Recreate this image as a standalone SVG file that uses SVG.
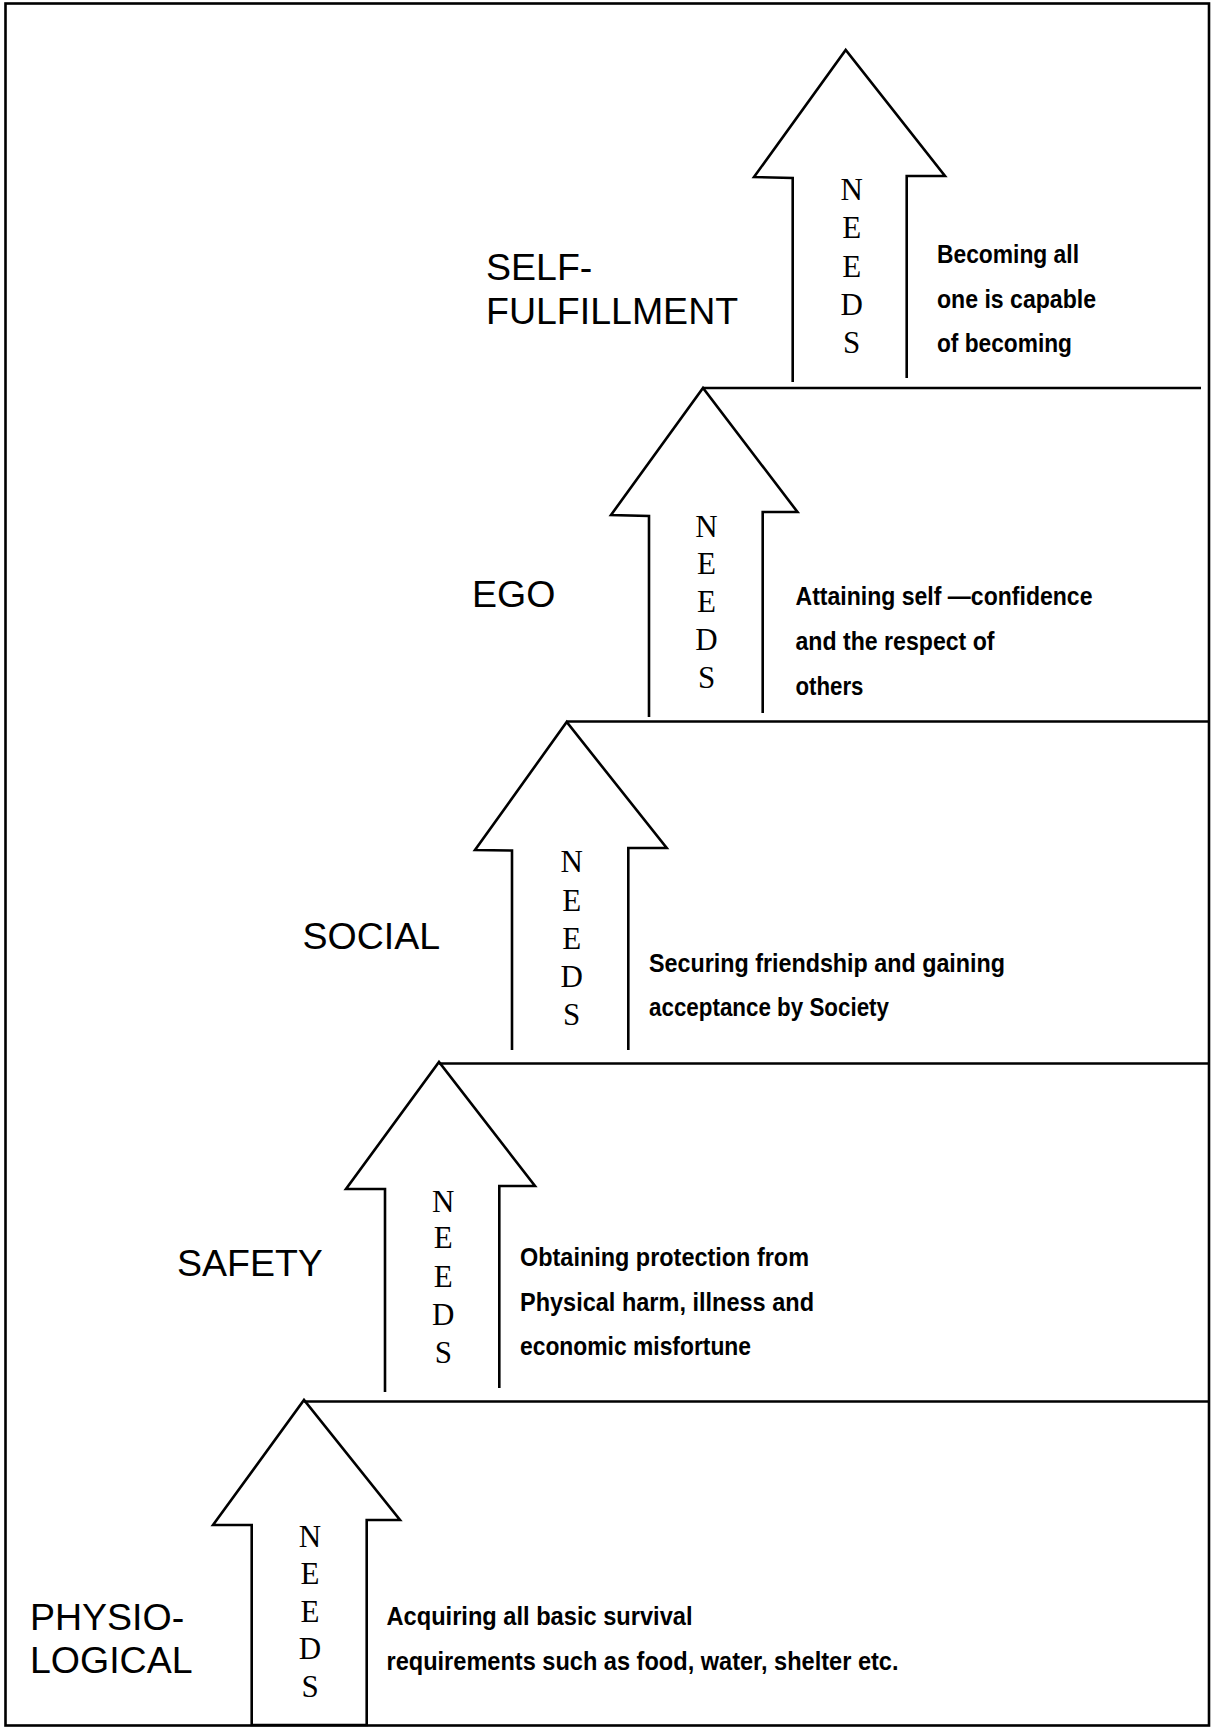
<svg xmlns="http://www.w3.org/2000/svg" width="1218" height="1728" viewBox="0 0 1218 1728">
<style>
.line{fill:none;stroke:#000;stroke-width:2.6;stroke-linejoin:miter;stroke-linecap:butt}
.lbl{font-family:"Liberation Sans",Arial,sans-serif;font-size:37.5px;fill:#000}
.nd{font-family:"Liberation Serif","Times New Roman",serif;font-size:31px;fill:#000;text-anchor:middle}
.desc{font-family:"Liberation Sans Narrow","Liberation Sans",Arial,sans-serif;font-size:26px;font-weight:bold;fill:#000}
</style>
<rect x="0" y="0" width="1218" height="1728" fill="#fff"/>
<rect class="line" x="5.5" y="3.5" width="1203.5" height="1722"/>
<g id="steps">
<line class="line" x1="703" y1="388" x2="1201" y2="388"/>
<line class="line" x1="566.7" y1="721.5" x2="1209" y2="721.5"/>
<line class="line" x1="439" y1="1063.5" x2="1209" y2="1063.5"/>
<line class="line" x1="304" y1="1401.5" x2="1209" y2="1401.5"/>
</g>
<g id="self-fulfillment">
<path class="line" d="M792.7,382 L792.7,178 L754,177 L845.7,50 L945,176 L906.7,176 L906.7,378"/>
<text class="nd" x="851.7" y="200">N</text><text class="nd" x="851.7" y="238">E</text><text class="nd" x="851.7" y="277">E</text><text class="nd" x="851.7" y="315">D</text><text class="nd" x="851.7" y="353">S</text>
<text class="lbl" x="486" y="280">SELF-</text>
<text class="lbl" x="486" y="324">FULFILLMENT</text>
<text class="desc" x="937" y="263" textLength="142" lengthAdjust="spacingAndGlyphs">Becoming all</text>
<text class="desc" x="937" y="308" textLength="159" lengthAdjust="spacingAndGlyphs">one is capable</text>
<text class="desc" x="937" y="352" textLength="135" lengthAdjust="spacingAndGlyphs">of becoming</text>
</g>
<g id="ego">
<path class="line" d="M649,717 L649,516 L611,515 L703,388 L797.5,512 L762.7,512 L762.7,713"/>
<text class="nd" x="706.5" y="537">N</text><text class="nd" x="706.5" y="574">E</text><text class="nd" x="706.5" y="612">E</text><text class="nd" x="706.5" y="650">D</text><text class="nd" x="706.5" y="688">S</text>
<text class="lbl" x="472" y="607">EGO</text>
<text class="desc" x="795.5" y="605" textLength="297" lengthAdjust="spacingAndGlyphs">Attaining self —confidence</text>
<text class="desc" x="795.5" y="650" textLength="199" lengthAdjust="spacingAndGlyphs">and the respect of</text>
<text class="desc" x="795.5" y="695" textLength="68" lengthAdjust="spacingAndGlyphs">others</text>
</g>
<g id="social">
<path class="line" d="M512,1050 L512,850.5 L475,850 L566.7,722 L666.7,848 L628.3,848 L628.3,1050"/>
<text class="nd" x="571.7" y="872">N</text><text class="nd" x="571.7" y="910.5">E</text><text class="nd" x="571.7" y="949">E</text><text class="nd" x="571.7" y="987">D</text><text class="nd" x="571.7" y="1025">S</text>
<text class="lbl" x="302.5" y="949">SOCIAL</text>
<text class="desc" x="649" y="972" textLength="356" lengthAdjust="spacingAndGlyphs">Securing friendship and gaining</text>
<text class="desc" x="649" y="1016" textLength="240" lengthAdjust="spacingAndGlyphs">acceptance by Society</text>
</g>
<g id="safety">
<path class="line" d="M385,1392 L385,1189 L346,1189 L439,1062 L535,1186 L499.3,1186 L499.3,1388"/>
<text class="nd" x="443.3" y="1211.5">N</text><text class="nd" x="443.3" y="1248">E</text><text class="nd" x="443.3" y="1286.5">E</text><text class="nd" x="443.3" y="1325">D</text><text class="nd" x="443.3" y="1363">S</text>
<text class="lbl" x="177" y="1276">SAFETY</text>
<text class="desc" x="520" y="1266" textLength="289" lengthAdjust="spacingAndGlyphs">Obtaining protection from</text>
<text class="desc" x="520" y="1311" textLength="294" lengthAdjust="spacingAndGlyphs">Physical harm, illness and</text>
<text class="desc" x="520" y="1355" textLength="231" lengthAdjust="spacingAndGlyphs">economic misfortune</text>
</g>
<g id="physiological">
<path class="line" d="M251.7,1725 L251.7,1525 L213,1525 L304,1400 L400,1520 L366.7,1520 L366.7,1725 Z"/>
<text class="nd" x="310" y="1546.5">N</text><text class="nd" x="310" y="1584">E</text><text class="nd" x="310" y="1621.5">E</text><text class="nd" x="310" y="1659">D</text><text class="nd" x="310" y="1696.5">S</text>
<text class="lbl" x="30" y="1630">PHYSIO-</text>
<text class="lbl" x="30" y="1673">LOGICAL</text>
<text class="desc" x="386.5" y="1625" textLength="306" lengthAdjust="spacingAndGlyphs">Acquiring all basic survival</text>
<text class="desc" x="386.5" y="1670" textLength="512" lengthAdjust="spacingAndGlyphs">requirements such as food, water, shelter etc.</text>
</g>
</svg>
